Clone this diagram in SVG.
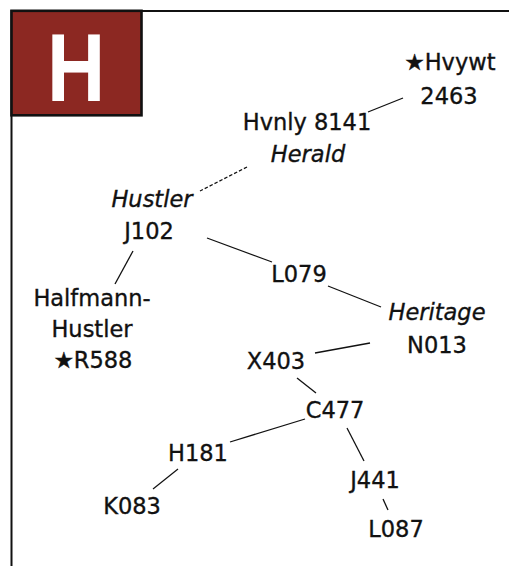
<svg xmlns="http://www.w3.org/2000/svg" width="509" height="566" viewBox="0 0 509 566">
<style>
.t{font-family:"DejaVu Sans","Liberation Sans",sans-serif;font-size:22.5px;fill:#111;stroke:#111;stroke-width:0.35;text-anchor:middle}
.i{font-style:italic}
.c line{stroke:#111;stroke-width:1.3}
.d{stroke-dasharray:3.5 2}
</style>
<rect width="509" height="566" fill="#fff"/>
<g id="frame">
<line x1="11.5" y1="11" x2="509" y2="11" stroke="#111" stroke-width="2"/>
<line x1="11.5" y1="10" x2="11.5" y2="566" stroke="#111" stroke-width="2"/>
<rect x="11.5" y="10.8" width="130" height="104.5" fill="#8C2822" stroke="#111" stroke-width="2.6"/>
<text transform="translate(76 0) scale(0.84 1)" x="0" y="101" font-family="'Liberation Sans',Arial,sans-serif" font-weight="bold" font-size="96" fill="#fff" text-anchor="middle">H</text>
</g>
<g class="c" id="connectors">
<line x1="368" y1="112" x2="403" y2="98"/>
<line class="d" x1="247" y1="167" x2="200" y2="191"/>
<line x1="133" y1="251" x2="115" y2="284"/>
<line x1="207" y1="238" x2="272" y2="262"/>
<line x1="328" y1="286" x2="381" y2="307"/>
<line x1="315" y1="353" x2="370" y2="343"/>
<line x1="297" y1="378" x2="316" y2="393"/>
<line x1="305" y1="419" x2="230" y2="442"/>
<line x1="178" y1="469" x2="153" y2="489"/>
<line x1="347" y1="428" x2="364" y2="461"/>
<line x1="383" y1="499" x2="388" y2="510"/>
</g>
<g id="hvywt"><text class="t" x="450" y="70">★Hvywt</text><text class="t" x="449" y="104">2463</text></g>
<g id="hvnly"><text class="t" x="307" y="130">Hvnly 8141</text><text class="t i" x="308" y="162">Herald</text></g>
<g id="j102"><text class="t i" x="152" y="207">Hustler</text><text class="t" x="149" y="239">J102</text></g>
<g id="r588"><text class="t" x="92" y="306">Halfmann-</text><text class="t" x="92" y="337">Hustler</text><text class="t" x="93" y="368">★R588</text></g>
<g id="l079"><text class="t" x="299" y="282">L079</text></g>
<g id="n013"><text class="t i" x="437" y="320">Heritage</text><text class="t" x="437" y="353">N013</text></g>
<g id="x403"><text class="t" x="276" y="369">X403</text></g>
<g id="c477"><text class="t" x="335" y="418">C477</text></g>
<g id="h181"><text class="t" x="198" y="461">H181</text></g>
<g id="k083"><text class="t" x="132" y="514">K083</text></g>
<g id="j441"><text class="t" x="375" y="488">J441</text></g>
<g id="l087"><text class="t" x="396" y="537">L087</text></g>
</svg>
